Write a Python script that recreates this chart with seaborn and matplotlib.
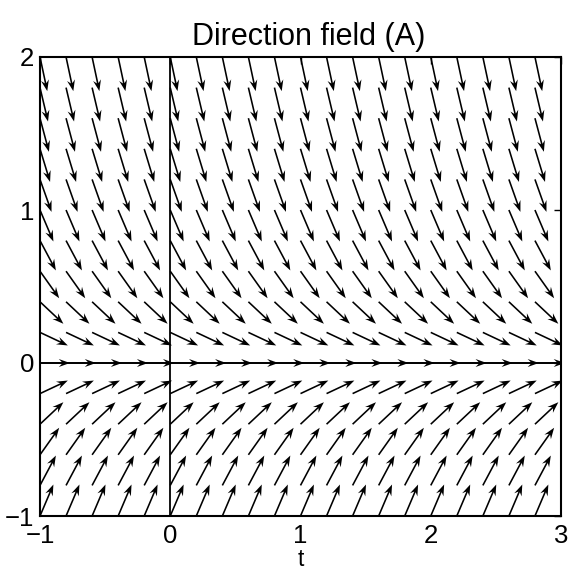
import numpy as np
import pandas as pd
import matplotlib
matplotlib.use("Agg")
import matplotlib.pyplot as plt
import seaborn as sns

# ---- data ----
t_values = [-1.0, -0.8, -0.6, -0.4, -0.2, 0.0, 0.2, 0.4, 0.6, 0.8, 1.0,
            1.2, 1.4, 1.6, 1.8, 2.0, 2.2, 2.4, 2.6, 2.8, 3.0]
y_values = [-1.0, -0.8, -0.6, -0.4, -0.2, 0.0, 0.2, 0.4, 0.6, 0.8, 1.0,
            1.2, 1.4, 1.6, 1.8, 2.0]
# slope dy/dt of the arrows in each row (same for every t)
row_slopes = [2.0, 1.6, 1.2, 0.8, 0.4, 0.0, -0.4, -0.8, -1.2, -1.6, -2.0,
              -2.4, -2.8, -3.2, -3.6, -4.0]
arrow_length = 0.23           # data units, all arrows normalised
x_ticks = [-1, 0, 1, 2, 3]
y_ticks = [-1, 0, 1, 2]
title_text = "Direction field (A)"
x_label = "t"

# ---- build the field table ----
rows = []
for yv, s in zip(y_values, row_slopes):
    for tv in t_values:
        n = np.hypot(1.0, s)
        rows.append({"t": tv, "y": yv, "u": 1.0 / n, "v": s / n})
df = pd.DataFrame(rows)

sns.set_theme(style="white")
plt.rcParams["font.family"] = ["Liberation Sans", "DejaVu Sans"]
plt.rcParams["axes.unicode_minus"] = True

fig = plt.figure(figsize=(5.69, 5.70), dpi=100)
ax = fig.add_axes([40 / 569, (570 - 516) / 570, 521 / 569, 459 / 570])

ax.quiver(df["t"], df["y"], df["u"], df["v"],
          angles="xy", scale_units="xy", scale=1.0 / arrow_length,
          units="dots", width=1.6, headwidth=5.0, headlength=7.0,
          headaxislength=5.0, color="black", zorder=3, clip_on=True)

ax.axvline(0, color="black", lw=1.3, zorder=2)
ax.axhline(0, color="black", lw=1.3, zorder=2)

ax.set_xlim(t_values[0], t_values[-1])
ax.set_ylim(y_values[0], y_values[-1])
ax.set_xticks(x_ticks)
ax.set_yticks(y_ticks)
ax.tick_params(direction="in", length=5, width=1, top=True, right=True,
               labelsize=18.5, colors="black")
ax.tick_params(axis="x", pad=6)
ax.tick_params(axis="y", pad=4)
for sp in ax.spines.values():
    sp.set_color("black")
    sp.set_linewidth(1.5)
ax.set_title(title_text, fontsize=22, color="black", pad=9, x=0.515)
ax.set_xlabel(x_label, fontsize=16.5, color="black", va="baseline")
ax.xaxis.set_label_coords(0.5, (516 - 566) / 459)

fig.savefig("out.png", dpi=100, facecolor="white")
